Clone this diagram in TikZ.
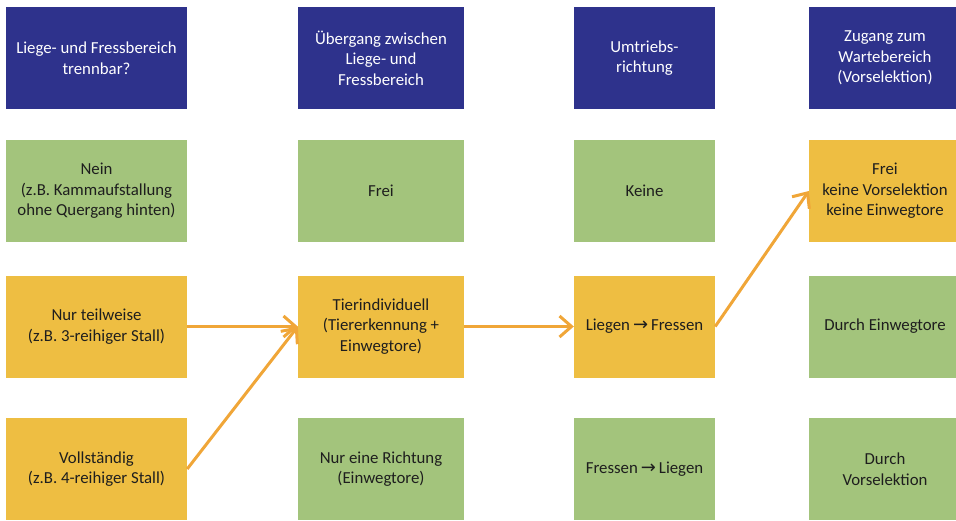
\documentclass[tikz,border=0pt]{standalone}
\usepackage{fontspec}
\setmainfont{Carlito}
\newfontfamily\arrowfont{DejaVu Sans}
\usetikzlibrary{arrows.meta}

\definecolor{kopfblau}{RGB}{46,50,140}
\definecolor{feldgruen}{RGB}{163,196,124}
\definecolor{feldgelb}{RGB}{238,190,66}
\definecolor{pfeilorange}{RGB}{240,166,56}
\definecolor{schrift}{RGB}{30,30,30}

\tikzset{
  feld/.style={inner sep=0pt,align=center,minimum height=102pt,
    font=\fontsize{16.8}{20.6}\selectfont,text=schrift},
  kopf/.style={feld,fill=kopfblau,text=white},
  gruen/.style={feld,fill=feldgruen},
  gelb/.style={feld,fill=feldgelb},
  pfeil/.style={draw=pfeilorange,line width=3pt,
    -{Straight Barb[length=12pt,width=21pt,line width=3pt]}}
}
\newcommand{\pf}{{\arrowfont\fontsize{18}{18}\selectfont\,→\,}}

\begin{document}
\begin{tikzpicture}[x=1pt,y=-1pt]
  \useasboundingbox (0,0) rectangle (956,520);
  % Kopfzeile
  \node[kopf,minimum width=181pt] (k1) at (96.5,58) {Liege- und Fressbereich\\trennbar?};
  \node[kopf,minimum width=166pt] (k2) at (381,58) {Übergang zwischen\\Liege- und\\Fressbereich};
  \node[kopf,minimum width=141pt] (k3) at (644.5,58) {Umtriebs-\\richtung};
  \node[kopf,minimum width=152pt] (k4) at (885,58) {Zugang zum\\Wartebereich\\(Vorselektion)};
  % Spalte 1
  \node[gruen,minimum width=181pt] (nein) at (96.5,191) {Nein\\(z.B. Kammaufstallung\\ohne Quergang hinten)};
  \node[gelb,minimum width=181pt] (teil) at (96.5,326.5) {Nur teilweise\\(z.B. 3-reihiger Stall)};
  \node[gelb,minimum width=181pt] (voll) at (96.5,469) {Vollständig\\(z.B. 4-reihiger Stall)};
  % Spalte 2
  \node[gruen,minimum width=166pt] (frei) at (381,191) {Frei};
  \node[gelb,minimum width=166pt] (tier) at (381,326.5) {Tierindividuell\\(Tiererkennung +\\Einwegtore)};
  \node[gruen,minimum width=166pt] (eine) at (381,469) {Nur eine Richtung\\(Einwegtore)};
  % Spalte 3
  \node[gruen,minimum width=141pt] (keine) at (644.5,191) {Keine};
  \node[gelb,minimum width=141pt] (lf) at (644.5,326.5) {Liegen\pf Fressen};
  \node[gruen,minimum width=141pt] (fl) at (644.5,469) {Fressen\pf Liegen};
  % Spalte 4
  \node[gelb,minimum width=152pt] (vfrei) at (885,191) {Frei\\keine Vorselektion\\keine Einwegtore};
  \node[gruen,minimum width=152pt] (ein) at (885,326.5) {Durch Einwegtore};
  \node[gruen,minimum width=152pt] (vsel) at (885,469) {Durch\\Vorselektion};
  % Pfeile
  \draw[pfeil] (teil.east) -- (tier.west);
  \draw[pfeil] (voll.east) -- (tier.west);
  \draw[pfeil] (tier.east) -- (lf.west);
  \draw[pfeil] (lf.east) -- (vfrei.west);
\end{tikzpicture}
\end{document}
